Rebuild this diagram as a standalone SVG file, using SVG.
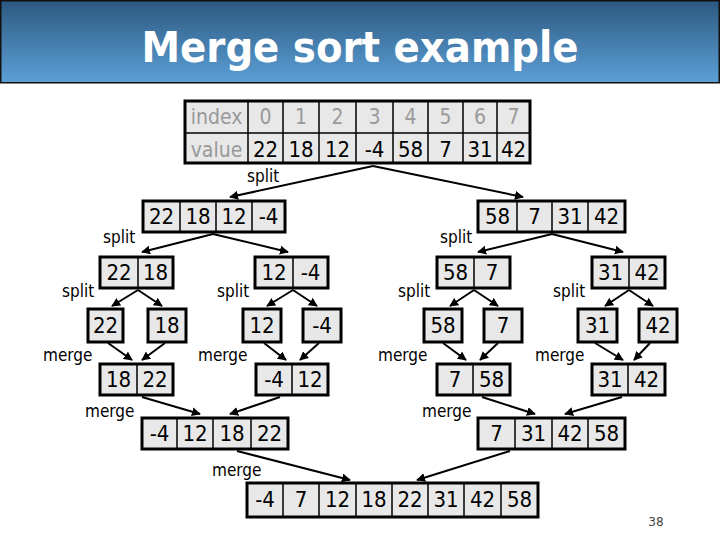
<svg xmlns="http://www.w3.org/2000/svg" width="720" height="540" viewBox="0 0 720 540">
<defs>
<linearGradient id="tg" x1="0" y1="0" x2="0" y2="1">
<stop offset="0" stop-color="#2c5980"/>
<stop offset="1" stop-color="#5c9fd6"/>
</linearGradient>
<marker id="ah" viewBox="0 0 10 10" refX="9" refY="5" markerWidth="9" markerHeight="9" markerUnits="userSpaceOnUse" orient="auto">
<path d="M0,0 L10,5 L0,10 z" fill="#000"/>
</marker>
<style>
.box{fill:#e8e8e8;stroke:#000;stroke-width:3}
.div{stroke:#000;stroke-width:1.5}
.num{font-family:"DejaVu Sans Condensed","DejaVu Sans",sans-serif;font-size:22px;fill:#000;text-anchor:middle}
.idx{font-family:"DejaVu Sans Condensed","DejaVu Sans",sans-serif;font-size:21px;fill:#999;text-anchor:middle}
.lbl{font-family:"DejaVu Sans Condensed","DejaVu Sans",sans-serif;font-size:17px;fill:#000}
.con line{stroke:#000;stroke-width:2;marker-end:url(#ah)}
</style>
</defs>
<rect width="720" height="540" fill="#fff"/>
<g id="title">
<rect x="0.75" y="0.75" width="718.5" height="82" fill="url(#tg)" stroke="#111" stroke-width="1.5"/>
<text x="360" y="62" text-anchor="middle" font-family="'DejaVu Sans Condensed','DejaVu Sans',sans-serif" font-weight="bold" font-size="43" fill="#fff" textLength="437" lengthAdjust="spacingAndGlyphs">Merge sort example</text>
</g>
<g id="table">
<rect class="box" x="185" y="101" width="345" height="62"/>
<line class="div" x1="185" y1="133" x2="530" y2="133"/>
<line class="div" x1="248" y1="101" x2="248" y2="163"/>
<line class="div" x1="283" y1="101" x2="283" y2="163"/>
<line class="div" x1="319" y1="101" x2="319" y2="163"/>
<line class="div" x1="356" y1="101" x2="356" y2="163"/>
<line class="div" x1="393" y1="101" x2="393" y2="163"/>
<line class="div" x1="428" y1="101" x2="428" y2="163"/>
<line class="div" x1="463" y1="101" x2="463" y2="163"/>
<line class="div" x1="497" y1="101" x2="497" y2="163"/>
<text class="idx" x="216.5" y="124" font-size="20">index</text>
<text class="idx" x="265.5" y="124">0</text>
<text class="idx" x="301" y="124">1</text>
<text class="idx" x="337.5" y="124">2</text>
<text class="idx" x="374.5" y="124">3</text>
<text class="idx" x="410.5" y="124">4</text>
<text class="idx" x="445.5" y="124">5</text>
<text class="idx" x="480" y="124">6</text>
<text class="idx" x="513.5" y="124">7</text>
<text class="idx" x="216.5" y="157" font-size="20">value</text>
<text class="num" x="265.5" y="157">22</text>
<text class="num" x="301" y="157">18</text>
<text class="num" x="337.5" y="157">12</text>
<text class="num" x="374.5" y="157">-4</text>
<text class="num" x="410.5" y="157">58</text>
<text class="num" x="445.5" y="157">7</text>
<text class="num" x="480" y="157">31</text>
<text class="num" x="513.5" y="157">42</text>
</g>
<g id="n1a">
<rect class="box" x="143" y="201" width="142" height="31"/>
<line class="div" x1="180" y1="201" x2="180" y2="232"/>
<line class="div" x1="216" y1="201" x2="216" y2="232"/>
<line class="div" x1="252" y1="201" x2="252" y2="232"/>
<text class="num" x="161.5" y="224">22</text>
<text class="num" x="198" y="224">18</text>
<text class="num" x="234" y="224">12</text>
<text class="num" x="268.5" y="224">-4</text>
</g>
<g id="n1b">
<rect class="box" x="478" y="201" width="147" height="31"/>
<line class="div" x1="517" y1="201" x2="517" y2="232"/>
<line class="div" x1="552" y1="201" x2="552" y2="232"/>
<line class="div" x1="588" y1="201" x2="588" y2="232"/>
<text class="num" x="497.5" y="224">58</text>
<text class="num" x="534.5" y="224">7</text>
<text class="num" x="570" y="224">31</text>
<text class="num" x="606.5" y="224">42</text>
</g>
<g id="n2a">
<rect class="box" x="100" y="257" width="73" height="31"/>
<line class="div" x1="138" y1="257" x2="138" y2="288"/>
<text class="num" x="119" y="280">22</text>
<text class="num" x="155.5" y="280">18</text>
</g>
<g id="n2b">
<rect class="box" x="255" y="257" width="73" height="31"/>
<line class="div" x1="293" y1="257" x2="293" y2="288"/>
<text class="num" x="274" y="280">12</text>
<text class="num" x="310.5" y="280">-4</text>
</g>
<g id="n2c">
<rect class="box" x="437" y="257" width="73" height="31"/>
<line class="div" x1="474" y1="257" x2="474" y2="288"/>
<text class="num" x="455.5" y="280">58</text>
<text class="num" x="492" y="280">7</text>
</g>
<g id="n2d">
<rect class="box" x="592" y="257" width="73" height="31"/>
<line class="div" x1="629" y1="257" x2="629" y2="288"/>
<text class="num" x="610.5" y="280">31</text>
<text class="num" x="647" y="280">42</text>
</g>
<g id="n3a"><rect class="box" x="88" y="309" width="35" height="33"/><text class="num" x="105.5" y="333">22</text></g>
<g id="n3b"><rect class="box" x="148" y="309" width="38" height="33"/><text class="num" x="167" y="333">18</text></g>
<g id="n3c"><rect class="box" x="243" y="309" width="38" height="33"/><text class="num" x="262" y="333">12</text></g>
<g id="n3d"><rect class="box" x="303" y="309" width="38" height="33"/><text class="num" x="322" y="333">-4</text></g>
<g id="n3e"><rect class="box" x="424" y="309" width="38" height="33"/><text class="num" x="443" y="333">58</text></g>
<g id="n3f"><rect class="box" x="484" y="309" width="38" height="33"/><text class="num" x="503" y="333">7</text></g>
<g id="n3g"><rect class="box" x="578" y="309" width="39" height="33"/><text class="num" x="597.5" y="333">31</text></g>
<g id="n3h"><rect class="box" x="639" y="309" width="38" height="33"/><text class="num" x="658" y="333">42</text></g>
<g id="n4a">
<rect class="box" x="100" y="364" width="73" height="31"/>
<line class="div" x1="137" y1="364" x2="137" y2="395"/>
<text class="num" x="118.5" y="387">18</text>
<text class="num" x="155" y="387">22</text>
</g>
<g id="n4b">
<rect class="box" x="256" y="364" width="72" height="31"/>
<line class="div" x1="292" y1="364" x2="292" y2="395"/>
<text class="num" x="274" y="387">-4</text>
<text class="num" x="310" y="387">12</text>
</g>
<g id="n4c">
<rect class="box" x="437" y="364" width="73" height="31"/>
<line class="div" x1="473" y1="364" x2="473" y2="395"/>
<text class="num" x="455" y="387">7</text>
<text class="num" x="491.5" y="387">58</text>
</g>
<g id="n4d">
<rect class="box" x="592" y="364" width="73" height="31"/>
<line class="div" x1="628" y1="364" x2="628" y2="395"/>
<text class="num" x="610" y="387">31</text>
<text class="num" x="646.5" y="387">42</text>
</g>
<g id="n5a">
<rect class="box" x="142" y="418" width="146" height="31"/>
<line class="div" x1="177" y1="418" x2="177" y2="449"/>
<line class="div" x1="213" y1="418" x2="213" y2="449"/>
<line class="div" x1="251" y1="418" x2="251" y2="449"/>
<text class="num" x="159.5" y="441">-4</text>
<text class="num" x="195" y="441">12</text>
<text class="num" x="232" y="441">18</text>
<text class="num" x="269.5" y="441">22</text>
</g>
<g id="n5b">
<rect class="box" x="478" y="418" width="147" height="31"/>
<line class="div" x1="515" y1="418" x2="515" y2="449"/>
<line class="div" x1="552" y1="418" x2="552" y2="449"/>
<line class="div" x1="588" y1="418" x2="588" y2="449"/>
<text class="num" x="496.5" y="441">7</text>
<text class="num" x="533.5" y="441">31</text>
<text class="num" x="570" y="441">42</text>
<text class="num" x="606.5" y="441">58</text>
</g>
<g id="n6">
<rect class="box" x="247" y="483" width="291" height="34"/>
<line class="div" x1="283" y1="483" x2="283" y2="517"/>
<line class="div" x1="319" y1="483" x2="319" y2="517"/>
<line class="div" x1="356" y1="483" x2="356" y2="517"/>
<line class="div" x1="392" y1="483" x2="392" y2="517"/>
<line class="div" x1="428" y1="483" x2="428" y2="517"/>
<line class="div" x1="464" y1="483" x2="464" y2="517"/>
<line class="div" x1="501" y1="483" x2="501" y2="517"/>
<text class="num" x="265" y="507">-4</text>
<text class="num" x="301" y="507">7</text>
<text class="num" x="337.5" y="507">12</text>
<text class="num" x="374" y="507">18</text>
<text class="num" x="410" y="507">22</text>
<text class="num" x="446" y="507">31</text>
<text class="num" x="482.5" y="507">42</text>
<text class="num" x="519.5" y="507">58</text>
</g>
<g id="connectors" class="con">
<line x1="373" y1="166" x2="230" y2="197"/>
<line x1="373" y1="166" x2="523" y2="197"/>
<line x1="213" y1="234" x2="142" y2="252"/>
<line x1="213" y1="234" x2="288" y2="252"/>
<line x1="552" y1="234" x2="478" y2="252"/>
<line x1="552" y1="234" x2="623" y2="252"/>
<line x1="138" y1="290" x2="112" y2="306"/>
<line x1="138" y1="290" x2="162" y2="306"/>
<line x1="293" y1="290" x2="267" y2="306"/>
<line x1="293" y1="290" x2="317" y2="306"/>
<line x1="474" y1="290" x2="450" y2="306"/>
<line x1="474" y1="290" x2="498" y2="306"/>
<line x1="629" y1="290" x2="605" y2="306"/>
<line x1="629" y1="290" x2="653" y2="306"/>
<line x1="108" y1="343" x2="132" y2="360"/>
<line x1="165" y1="343" x2="142" y2="360"/>
<line x1="264" y1="343" x2="286" y2="360"/>
<line x1="319" y1="343" x2="300" y2="360"/>
<line x1="443" y1="343" x2="466" y2="360"/>
<line x1="498" y1="343" x2="480" y2="360"/>
<line x1="595" y1="343" x2="623" y2="360"/>
<line x1="650" y1="343" x2="634" y2="360"/>
<line x1="142" y1="397" x2="200" y2="414"/>
<line x1="280" y1="397" x2="230" y2="414"/>
<line x1="482" y1="397" x2="535" y2="414"/>
<line x1="622" y1="397" x2="565" y2="414"/>
<line x1="237" y1="451" x2="350" y2="480"/>
<line x1="510" y1="451" x2="417" y2="480"/>
</g>
<g id="labels">
<text class="lbl" x="247" y="182">split</text>
<text class="lbl" x="103" y="243">split</text>
<text class="lbl" x="440" y="243">split</text>
<text class="lbl" x="62" y="297">split</text>
<text class="lbl" x="217" y="297">split</text>
<text class="lbl" x="398" y="297">split</text>
<text class="lbl" x="553" y="297">split</text>
<text class="lbl" x="43" y="361">merge</text>
<text class="lbl" x="198" y="361">merge</text>
<text class="lbl" x="378" y="361">merge</text>
<text class="lbl" x="535" y="361">merge</text>
<text class="lbl" x="85" y="417">merge</text>
<text class="lbl" x="422" y="417">merge</text>
<text class="lbl" x="212" y="476">merge</text>
<text x="656" y="526" text-anchor="middle" font-family="'DejaVu Sans',sans-serif" font-size="12" fill="#444">38</text>
</g>
</svg>
